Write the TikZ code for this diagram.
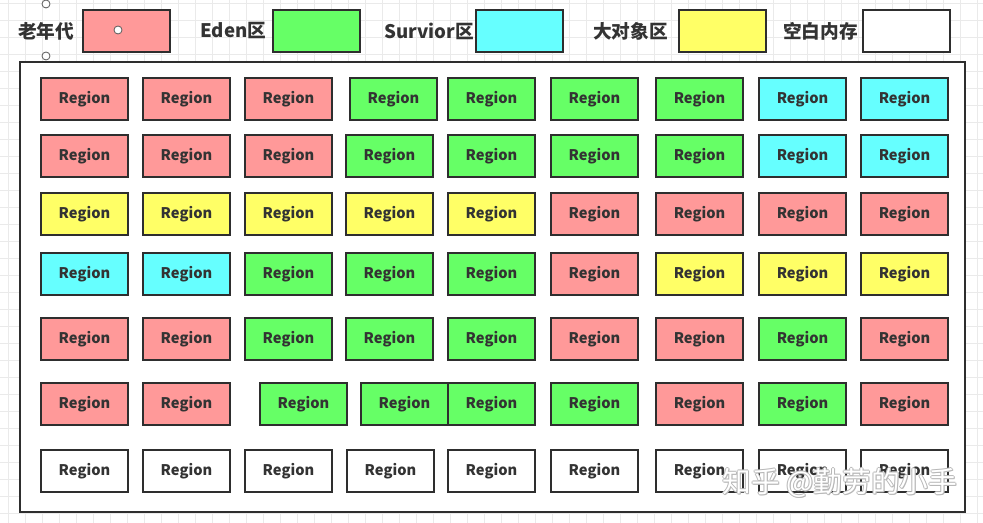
\documentclass[tikz,border=0pt]{standalone}
\usepackage{fontspec}
\setmainfont{Noto Sans CJK SC}
\usetikzlibrary{positioning}
\definecolor{pk}{HTML}{FF9999}
\definecolor{gr}{HTML}{66FF66}
\definecolor{cy}{HTML}{66FFFF}
\definecolor{yl}{HTML}{FFFF66}
\definecolor{wt}{HTML}{FFFFFF}
\definecolor{bd}{HTML}{2E2E2E}
\definecolor{tx}{HTML}{333333}
\definecolor{gridc}{HTML}{EAEAEA}
\definecolor{wmgray}{HTML}{B8B8B8}
\begin{document}
\begin{tikzpicture}[x=0.75pt,y=-0.75pt,
  box/.style={draw=bd, line width=1.5pt, minimum width=65.25pt, minimum height=31.5pt,
    inner sep=0pt, outer sep=0pt, anchor=north west,
    font=\bfseries\fontsize{11}{12}\selectfont, text=tx},
  legtext/.style={anchor=west, inner sep=0pt, text=tx, font=\bfseries\fontsize{14}{15}\selectfont},
  handle/.style={circle, draw=gray!70!black, fill=white, line width=0.6pt, minimum size=6pt, inner sep=0pt}]
\useasboundingbox (0,0) rectangle (983,523);
\fill[white] (0,0) rectangle (983,523);
% background grid
\foreach \gx in {8,25,...,983} \draw[gridc, line width=0.5pt] (\gx,0) -- (\gx,523);
\foreach \gy in {3,20,...,523} \draw[gridc, line width=0.5pt] (0,\gy) -- (983,\gy);
% legend
\node[legtext] (t1) at (18,31) {老年代};
\node[box, fill=pk] (l1) at (83,10) {};
\node[legtext] (t2) at (200,31) {Eden区};
\node[box, fill=gr] (l2) at (273,10) {};
\node[legtext] (t3) at (384,31) {Survior区};
\node[box, fill=cy] (l3) at (476,10) {};
\node[legtext] (t4) at (593,31) {大对象区};
\node[box, fill=yl] (l4) at (679,10) {};
\node[legtext] (t5) at (783,31) {空白内存};
\node[box, fill=wt] (l5) at (863,10) {};
% container
\node[draw=bd, line width=1.5pt, fill=white, anchor=north west, inner sep=0pt,
  minimum width=708.75pt, minimum height=337.5pt] (heap) at (19,61) {};
% rows
\foreach \x/\f [count=\i] in {41/pk,143/pk,245/pk,350/gr,448/gr,551/gr,656/gr,759/cy,861/cy}
  \node[box, fill=\f] (r1c\i) at (\x,78) {Region};
\foreach \x/\f [count=\i] in {41/pk,143/pk,245/pk,346/gr,448/gr,551/gr,656/gr,759/cy,861/cy}
  \node[box, fill=\f] (r2c\i) at (\x,135) {Region};
\foreach \x/\f [count=\i] in {41/yl,143/yl,245/yl,346/yl,448/yl,551/pk,656/pk,759/pk,861/pk}
  \node[box, fill=\f] (r3c\i) at (\x,193) {Region};
\foreach \x/\f [count=\i] in {41/cy,143/cy,245/gr,346/gr,448/gr,551/pk,656/yl,759/yl,861/yl}
  \node[box, fill=\f] (r4c\i) at (\x,253) {Region};
\foreach \x/\f [count=\i] in {41/pk,143/pk,245/gr,346/gr,448/gr,551/pk,656/pk,759/gr,861/pk}
  \node[box, fill=\f] (r5c\i) at (\x,318) {Region};
\foreach \x/\f [count=\i] in {41/pk,143/pk,260/gr,361/gr,448/gr,551/gr,656/pk,759/gr,861/pk}
  \node[box, fill=\f] (r6c\i) at (\x,383) {Region};
\foreach \x/\f [count=\i] in {41/wt,143/wt,245/wt,347/wt,448/wt,551/wt,656/wt,759/wt,861/wt}
  \node[box, fill=\f] (r7c\i) at (\x,450) {Region};
% selection handles
\node[handle] (h1) at (46,4) {};
\node[handle] (h2) at (46,56) {};
\node[handle] (h3) at (118,30) {};
% watermark
\foreach \dx/\dy in {-1/0,1/0,0/-1,0/1,1/1}
  \node[text=wmgray, font=\fontsize{21.5}{23}\selectfont, inner sep=0pt] at (840+\dx,483+\dy) {知乎 @勤劳的小手};
\node[text=white, font=\fontsize{21.5}{23}\selectfont, inner sep=0pt] (wm) at (840,483) {知乎 @勤劳的小手};
\end{tikzpicture}
\end{document}
